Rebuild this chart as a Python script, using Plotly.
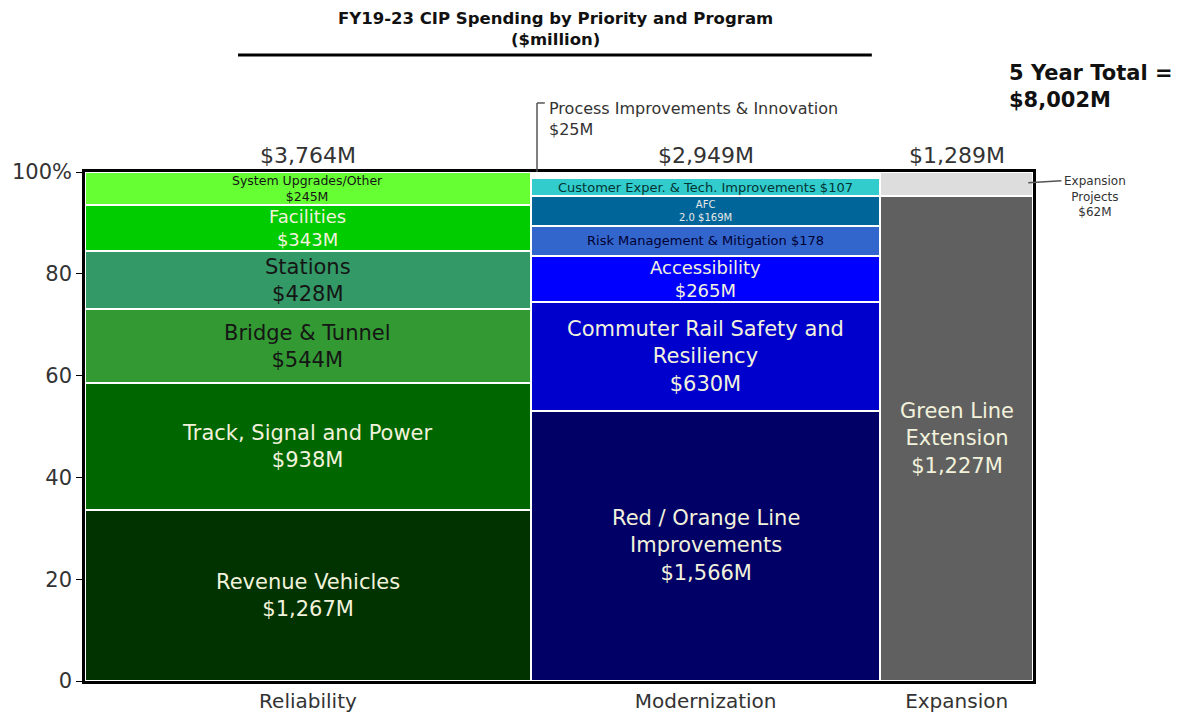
import plotly.graph_objects as go

# ---- data ----
priorities = ["Reliability", "Modernization", "Expansion"]
priority_totals = [3764, 2949, 1289]

rel_programs = ["Revenue Vehicles", "Track, Signal and Power", "Bridge & Tunnel", "Stations", "Facilities", "System Upgrades/Other"]
rel_values = [1267, 938, 544, 428, 343, 245]
rel_labels = ["Revenue Vehicles<br>$1,267M", "Track, Signal and Power<br>$938M", "Bridge & Tunnel<br>$544M",
              "Stations<br>$428M", "Facilities<br>$343M", "System Upgrades/Other<br>$245M"]

mod_programs = ["Red / Orange Line Improvements", "Commuter Rail Safety and Resiliency", "Accessibility",
                "Risk Management & Mitigation", "AFC 2.0", "Customer Exper. & Tech. Improvements",
                "Process Improvements & Innovation"]
mod_values = [1566, 630, 265, 178, 169, 107, 25]
mod_labels = ["Red / Orange Line<br>Improvements<br>$1,566M", "Commuter Rail Safety and<br>Resiliency<br>$630M",
              "Accessibility<br>$265M", "Risk Management & Mitigation $178", "AFC<br>2.0 $169M",
              "Customer Exper. & Tech. Improvements $107", ""]

exp_programs = ["Green Line Extension", "Expansion Projects"]
exp_values = [1227, 62]
exp_labels = ["Green Line<br>Extension<br>$1,227M", ""]

total_label = "5 Year Total =<br>$8,002M"

# ---- styles ----
CREAM = "#f2f2dc"
DARK = "#151515"
rel_colors = ["#003300", "#006600", "#339933", "#339966", "#00cc00", "#66ff33"]
rel_text = [(CREAM, 21), (CREAM, 21), (DARK, 21), (DARK, 21), (CREAM, 18), (DARK, 12.5)]
mod_colors = ["#000066", "#0000cc", "#0000ff", "#3366cc", "#006699", "#33cccc", "#ffffff"]
mod_text = [(CREAM, 21), (CREAM, 21), (CREAM, 18), ("#000033", 13), ("#e8e8e8", 10), ("#003333", 13), ("#000000", 10)]
exp_colors = ["#606060", "#dddddd"]
exp_text = [(CREAM, 21), ("#000000", 10)]

FONT = "DejaVu Sans"
fig = go.Figure()
annotations = []

grand = sum(priority_totals)
left = 0
columns = [(rel_programs, rel_values, rel_labels, rel_colors, rel_text),
           (mod_programs, mod_values, mod_labels, mod_colors, mod_text),
           (exp_programs, exp_values, exp_labels, exp_colors, exp_text)]
centers = []
for (progs, vals, labs, cols, txt), tot in zip(columns, priority_totals):
    center = left + tot / 2
    centers.append(center)
    pct = [v / tot * 100 for v in vals]
    base = []
    acc = 0
    for p in pct:
        base.append(acc)
        acc += p
    fig.add_trace(go.Bar(
        x=[center] * len(vals), y=pct, base=base, width=[tot] * len(vals),
        marker=dict(color=cols, line=dict(color="white", width=2)),
        name="", hovertext=progs, showlegend=False,
    ))
    for p, b, lab, (tc, ts) in zip(pct, base, labs, txt):
        if lab:
            annotations.append(dict(x=center, y=b + p / 2, xref="x", yref="y", text=lab, showarrow=False,
                                    font=dict(family=FONT, size=ts, color=tc), align="center",
                                    xanchor="center", yanchor="middle"))
    annotations.append(dict(x=center, y=1.033, xref="x", yref="paper", text=f"${tot:,}M", showarrow=False,
                            font=dict(family=FONT, size=22, color="#333333"), xanchor="center",
                            yanchor="middle"))
    left += tot

# title
annotations.append(dict(x=0.496, y=1.281, xref="paper", yref="paper",
                        text="<b>FY19-23 CIP Spending by Priority and Program<br>($million)</b>",
                        showarrow=False, font=dict(family=FONT, size=16.5, color="#111111"), align="center",
                        xanchor="center", yanchor="middle"))
annotations.append(dict(x=0.9726, y=1.167, xref="paper", yref="paper", text=f"<b>{total_label}</b>",
                        showarrow=False, font=dict(family=FONT, size=21, color="#111111"), align="left",
                        xanchor="left", yanchor="middle"))
annotations.append(dict(x=0.487, y=1.104, xref="paper", yref="paper",
                        text=f"{mod_programs[-1]}<br>${mod_values[-1]}M",
                        showarrow=False, font=dict(family=FONT, size=16, color="#333333"), align="left",
                        xanchor="left", yanchor="middle"))
annotations.append(dict(x=1.0654, y=0.951, xref="paper", yref="paper",
                        text="Expansion<br>Projects<br>$62M",
                        showarrow=False, font=dict(family=FONT, size=12, color="#333333"), align="center",
                        xanchor="center", yanchor="middle"))

shapes = [
    dict(type="line", xref="paper", yref="paper", x0=0.1614, x1=0.830, y0=1.2299, y1=1.2299,
         line=dict(color="black", width=3)),
    dict(type="line", xref="paper", yref="paper", x0=0.4768, x1=0.4768, y0=1.0, y1=1.1356,
         line=dict(color="#555555", width=1.5)),
    dict(type="line", xref="paper", yref="paper", x0=0.4768, x1=0.485, y0=1.1356, y1=1.1356,
         line=dict(color="#555555", width=1.5)),
    dict(type="line", xref="paper", yref="paper", x0=0.995, x1=1.03, y0=0.979, y1=0.983,
         line=dict(color="#555555", width=1.5)),
]

# page body has an 8px margin: shrink the figure and margins so the plot lands at the same pixels
fig.update_layout(
    width=1171, height=704,
    margin=dict(l=77, r=146, t=164, b=31, autoexpand=False),
    plot_bgcolor="white", paper_bgcolor="white",
    barmode="overlay", bargap=0,
    annotations=annotations, shapes=shapes,
    font=dict(family=FONT, color="#333333"),
    xaxis=dict(range=[0, grand], tickvals=centers, ticktext=priorities, showgrid=False, zeroline=False,
               showline=True, mirror=True, linecolor="black", linewidth=2.5, ticks="", automargin=False,
               tickfont=dict(family=FONT, size=20, color="#333333")),
    yaxis=dict(range=[0, 100], tickvals=[0, 20, 40, 60, 80, 100], ticktext=["0", "20", "40", "60", "80", "100%"],
               showgrid=False, zeroline=False, showline=True, mirror=True, linecolor="black", linewidth=2.5,
               ticks="outside", ticklen=6, tickcolor="black", automargin=False,
               tickfont=dict(family=FONT, size=21, color="#333333")),
)

fig.write_html("out.html")
